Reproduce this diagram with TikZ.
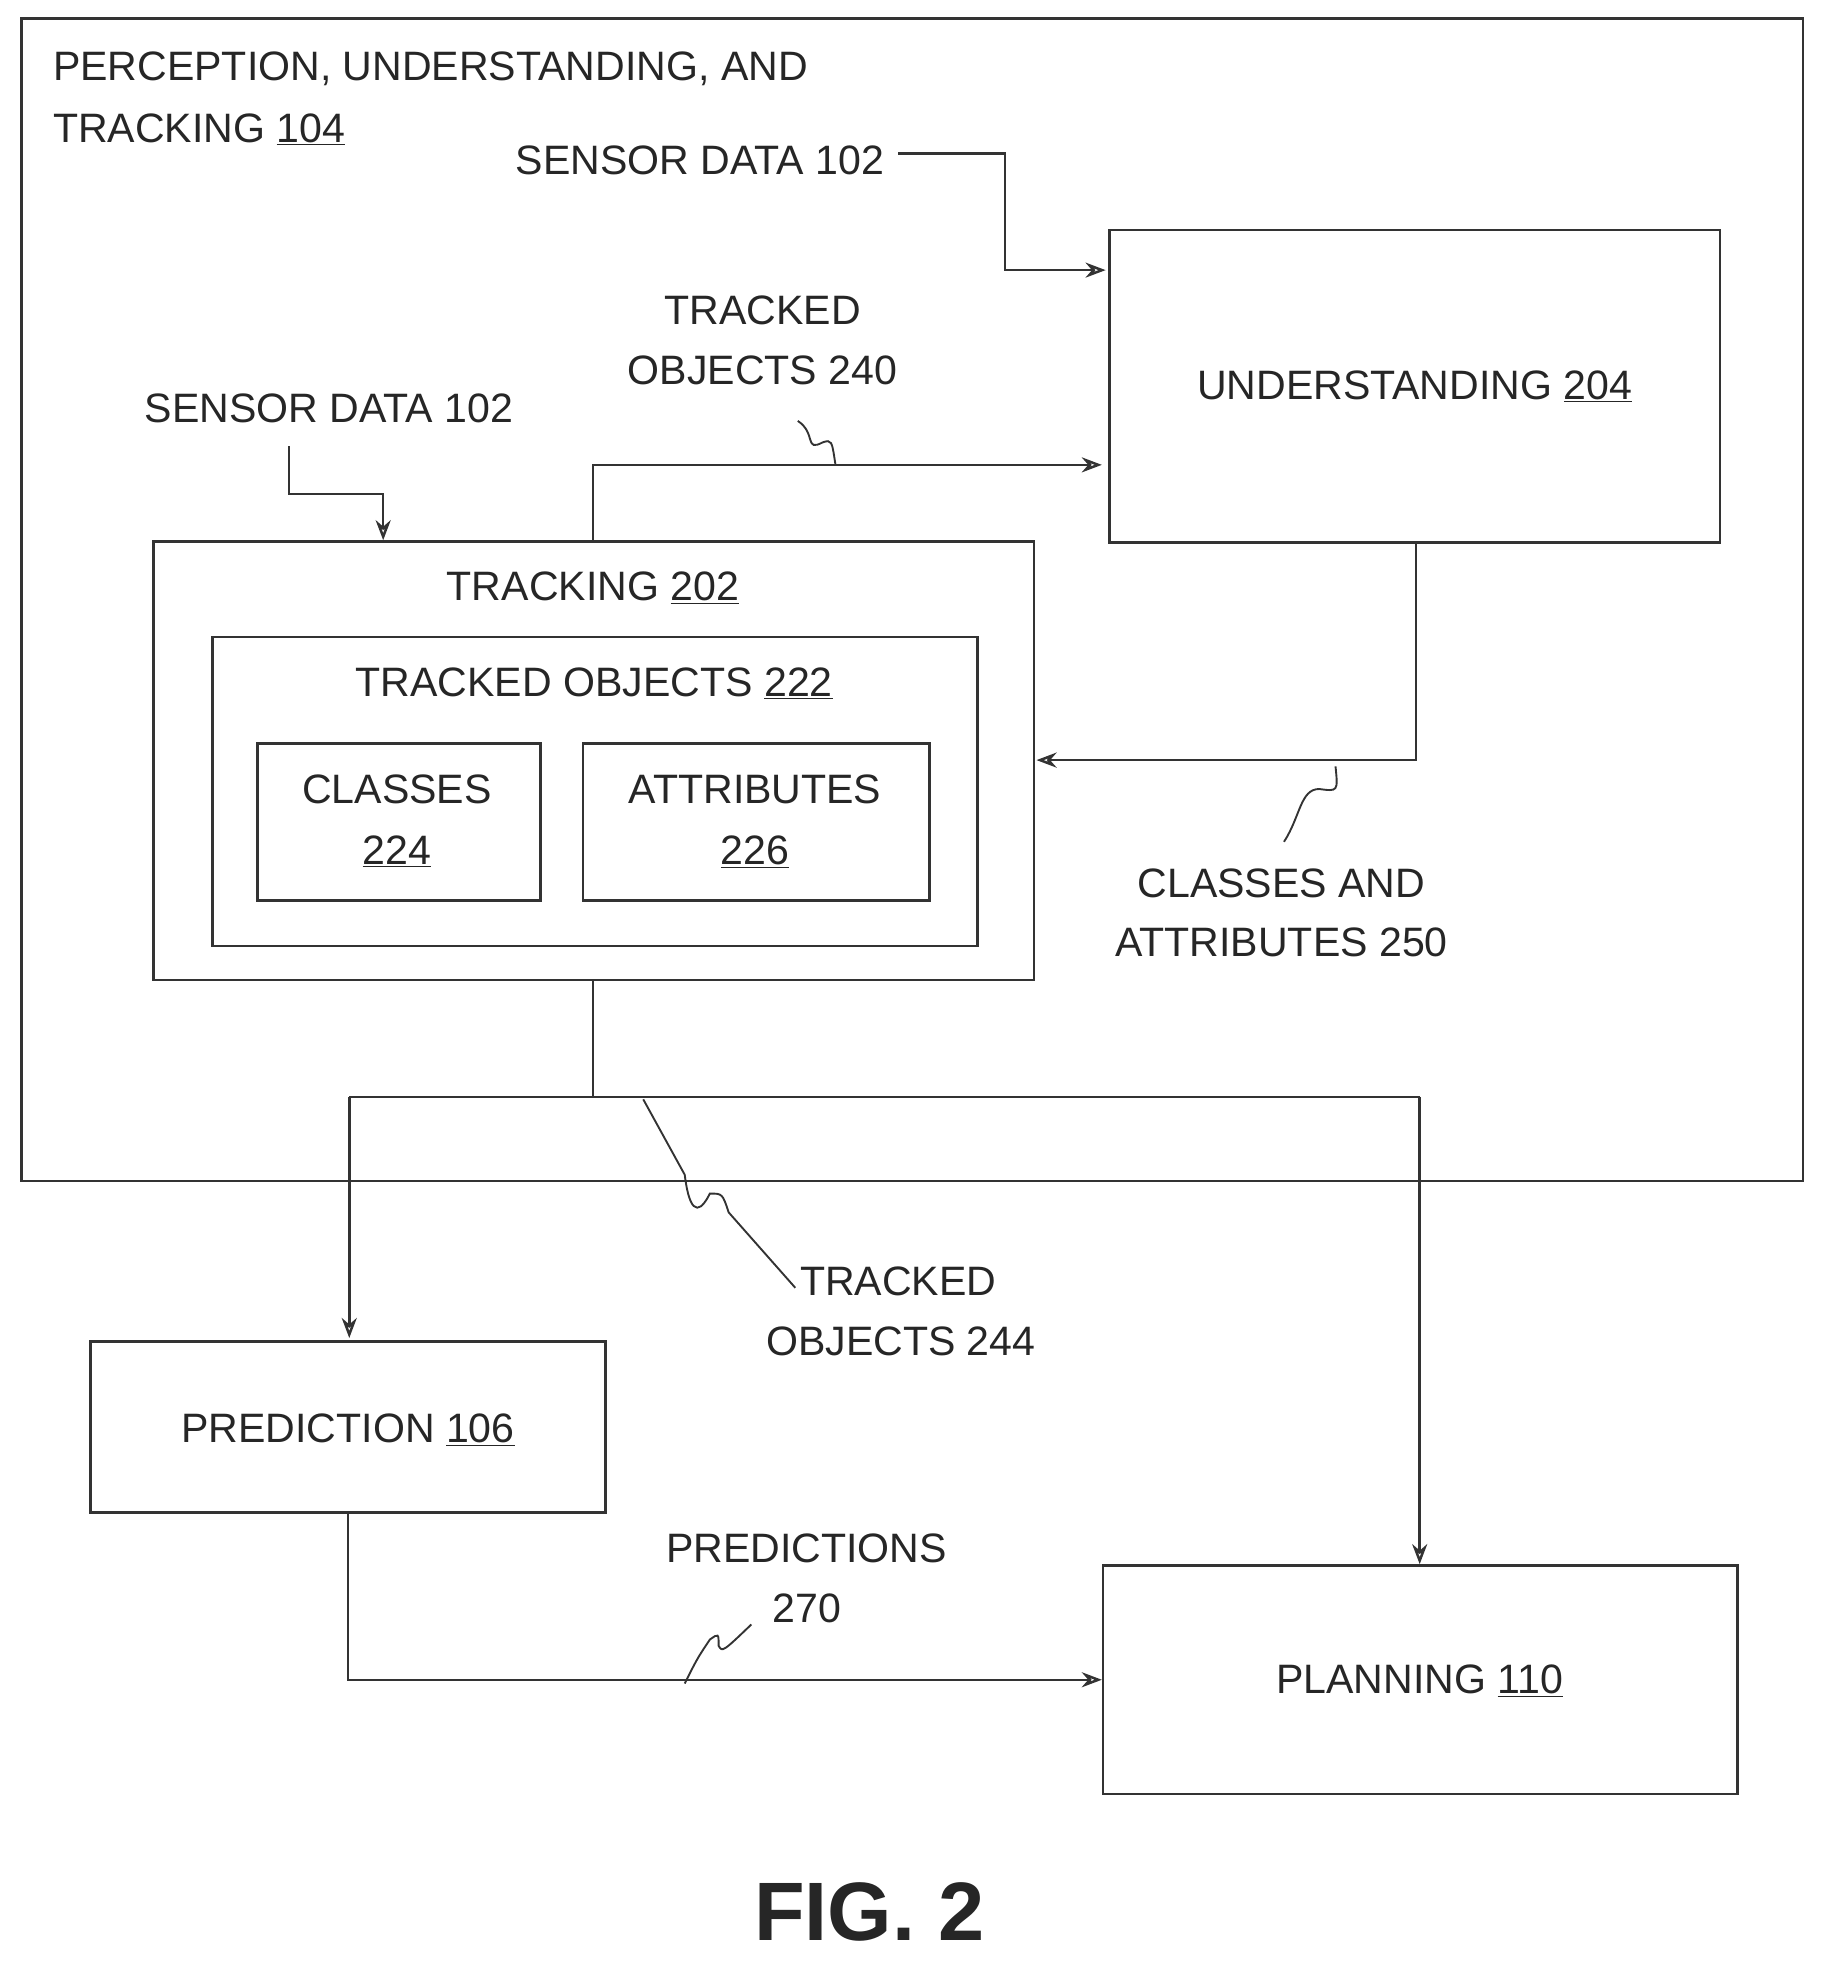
\documentclass[tikz,border=0pt]{standalone}
\usepackage{fontspec}
\setmainfont{Liberation Sans}
\usetikzlibrary{arrows.meta}
\begin{document}
\begin{tikzpicture}[x=1pt,y=-1pt,
  box/.style={draw=black!80,line width=2.2pt},
  ln/.style={draw=black!80,line width=2pt},
  arr/.style={ln,-{Stealth[length=16pt,width=12pt,open]}},
  txt/.style={font=\fontsize{32.7}{38}\selectfont,text=black!85,inner sep=0pt},
  ]
\useasboundingbox (0,0) rectangle (1456,1572);
\draw[box] (17,15) rectangle (1435,940);
\node[txt,anchor=west] (t1) at (42,55) {PERCEPTION, UNDERSTANDING, AND};
\node[txt,anchor=west] (t2) at (42,103) {TRACKING \underline{104}};
\node[box,minimum width=486pt,minimum height=249pt] (und) at (1126,307.5) {};
\node[txt] at (und) {UNDERSTANDING \underline{204}};
\node[txt] (sd1) at (557,128) {SENSOR DATA 102};
\coordinate (a1) at (715,122);
\draw[arr] (a1) -- (800,122) -- (800,215) -- (880,215);
\node[txt] (to1) at (607,247) {TRACKED};
\node[txt] (to2) at (607,295) {OBJECTS 240};
\draw[ln,line width=1.5pt] (635,335) .. controls (650,345) and (640,360) .. (655,352) .. controls (662,350) .. (665,370);
\node[box,minimum width=701pt,minimum height=349pt] (trk) at (472.5,605.5) {};
\node[txt] at (472,468) {TRACKING \underline{202}};
\node[box,minimum width=609pt,minimum height=246pt] (tob) at (473.5,630) {};
\node[txt] at (473,544) {TRACKED OBJECTS \underline{222}};
\node[box,minimum width=225pt,minimum height=125pt] (cls) at (317.5,654.5) {};
\node[txt] at (316,628) {CLASSES};
\node[txt] at (316,678) {\underline{224}};
\node[box,minimum width=276pt,minimum height=125pt] (att) at (602,654.5) {};
\node[txt] at (601,628) {ATTRIBUTES};
\node[txt] at (601,678) {\underline{226}};
\draw[arr] (472,432) -- (472,370) -- (877,370);
\node[txt] (sd2) at (262,325) {SENSOR DATA 102};
\coordinate (a2) at (230,355);
\draw[arr] (a2) -- (230,393) -- (305,393) -- (305,430);
\draw[arr] (1127,432) -- (1127,605) -- (825,605);
\draw[ln,line width=1.5pt] (1063,610) .. controls (1065,630) .. (1050,628) .. controls (1035,628) and (1035,650) .. (1022,670);
\node[txt] at (1020,703) {CLASSES AND};
\node[txt] at (1020,750) {ATTRIBUTES 250};
\node[box,minimum width=410pt,minimum height=136pt] (pred) at (277,1136) {};
\node[txt] at (277,1138) {PREDICTION \underline{106}};
\node[box,minimum width=505pt,minimum height=182pt] (plan) at (1130.5,1337) {};
\node[txt] at (1130,1338) {PLANNING \underline{110}};
\draw[ln] (472,780) -- (472,873);
\draw[ln] (278,873) -- (1130,873);
\draw[arr] (278,873) -- (278,1065);
\draw[arr] (1130,873) -- (1130,1245);
\draw[ln,line width=1.5pt] (512,875) -- (545,935) .. controls (550,975) and (560,960) .. (565,950) .. controls (575,950) .. (580,965) -- (633,1025);
\node[txt] at (715,1020) {TRACKED};
\node[txt] at (717,1068) {OBJECTS 244};
\draw[arr] (277,1204) -- (277,1337) -- (877,1337);
\draw[ln,line width=1.5pt] (545,1340) .. controls (555,1320) .. (565,1305) .. controls (572,1300) .. (572,1310) .. controls (575,1315) .. (598,1293);
\node[txt] at (642,1232) {PREDICTIONS};
\node[txt] at (642,1280) {270};
\node[txt,font=\fontsize{66}{70}\selectfont\bfseries] at (692,1522) {FIG. 2};
\end{tikzpicture}
\end{document}
